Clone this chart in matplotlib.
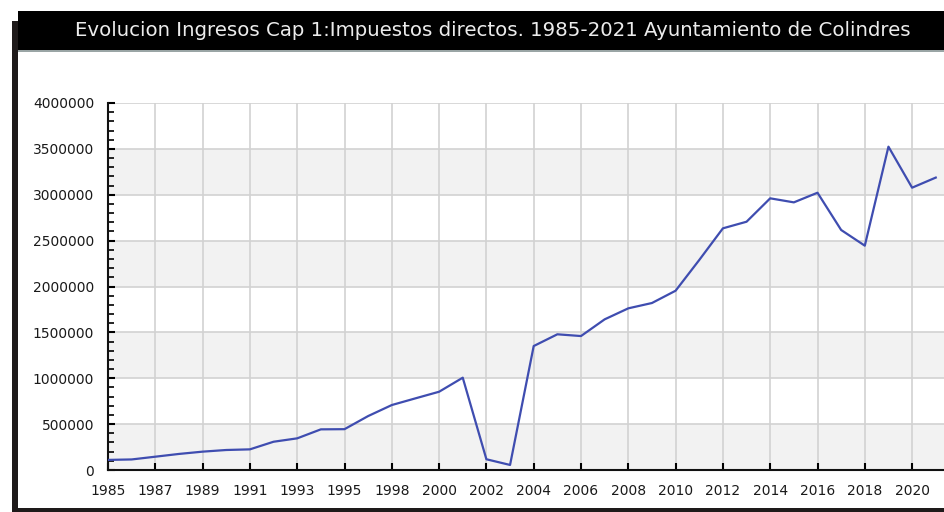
import matplotlib
matplotlib.use('Agg')
import matplotlib.pyplot as plt
from matplotlib.patches import Rectangle
from matplotlib.ticker import MultipleLocator

# years (1996 not in the series)
years=[1985,1986,1987,1988,1989,1990,1991,1992,1993,1994,1995,
       1997,1998,1999,2000,2001,2002,2003,2004,2005,2006,2007,2008,2009,
       2010,2011,2012,2013,2014,2015,2016,2017,2018,2019,2020,2021]
ingresos=[110000,115000,145000,175000,200000,218000,225000,308000,345000,443000,445000,
          588000,708000,781000,853000,1006000,117000,55000,1351000,1479000,1460000,1642000,1762000,1820000,
          1954000,2289000,2634000,2706000,2961000,2917000,3022000,2616000,2445000,3524000,3077000,3187000]
titulo='Evolucion Ingresos Cap 1:Impuestos directos. 1985-2021 Ayuntamiento de Colindres'

W,H=944,512
fig=plt.figure(figsize=(W/100,H/100),dpi=100)
fig.patch.set_facecolor('white')

def box(x0,y0,x1,y1,c):
    fig.patches.append(Rectangle((x0/W,1-y1/H),(x1-x0)/W,(y1-y0)/H,transform=fig.transFigure,
                                 facecolor=c,edgecolor='none',zorder=0))

# frame bits around the picture
box(18,11,944,50,'black')
box(18,50,944,52,'#9aa5a5')
box(12,21,18,512,'#1e1a1a')
box(12,508,944,512,'#1e1a1a')
fig.text(493/W,1-31/H,titulo,color='#ececec',fontsize=14.2,ha='center',va='center')

ax=fig.add_axes([108/W,(H-470)/H,(W-108)/W,(470-103)/H])
x=list(range(len(years)))

for lo in [0,1000000,2000000,3000000]:
    ax.axhspan(lo,lo+500000,color='#f2f2f2',zorder=0,lw=0)

ax.plot(x,ingresos,color='#3f4db0',lw=1.6,zorder=3)

ax.set_xlim(0,(W-108)/23.65)
ax.set_ylim(0,4000000)
ax.set_xticks(x[::2])
ax.set_xticklabels([str(y) for y in years[::2]])
ax.yaxis.set_major_locator(MultipleLocator(500000))
ax.yaxis.set_minor_locator(MultipleLocator(100000))
ax.set_yticklabels([str(int(v)) for v in ax.get_yticks()])

ax.grid(True,color='#d2d2d2',lw=1.2,zorder=1)
ax.set_axisbelow(True)
for s in ['top','right']:
    ax.spines[s].set_visible(False)
for s in ['left','bottom']:
    ax.spines[s].set_linewidth(1.5)
    ax.spines[s].set_color('#111111')

ax.tick_params(axis='both',which='major',direction='in',length=5,width=1.5,labelsize=10,labelcolor='#1a1a1a')
ax.tick_params(axis='y',which='minor',direction='in',length=4,width=1.2)
ax.tick_params(axis='y',which='major',pad=10)
ax.tick_params(axis='x',which='major',pad=10)

fig.savefig('out.png',dpi=100)
